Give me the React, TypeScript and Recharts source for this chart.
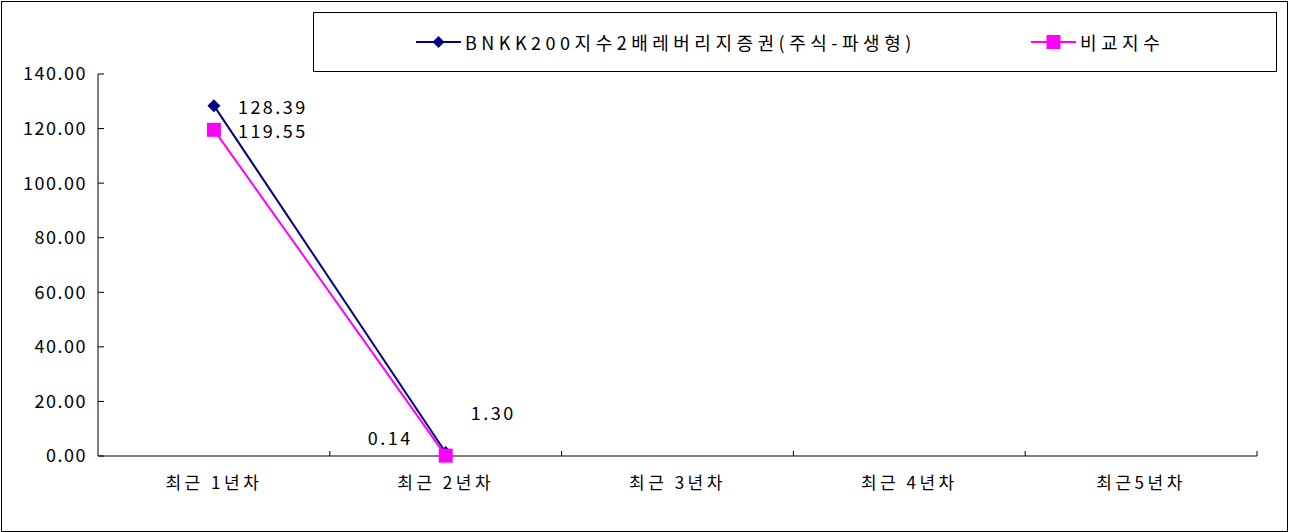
import { LineChart, Line, XAxis, YAxis, LabelList } from "recharts"

const categories = ["최근 1년차", "최근 2년차", "최근 3년차", "최근 4년차", "최근5년차"]
const fundValues = [128.39, 1.3, null, null, null]
const indexValues = [119.55, 0.14, null, null, null]
const yTicks = [0, 20, 40, 60, 80, 100, 120, 140]
const fundName = "BNKK200지수2배레버리지증권(주식-파생형)"
const indexName = "비교지수"

const NAVY = "#000080"
const MAGENTA = "#FF00FF"
const FONT = "'Noto Sans CJK KR', sans-serif"

const W = 1292
const H = 532
const M = { top: 74, right: 35, bottom: 0, left: 0 }
const Y_W = 98
const BAND = (W - Y_W - M.right) / categories.length

const data = categories.map((name, i) => ({
  name,
  fund: fundValues[i],
  index: indexValues[i],
}))

// label placement per point (hand-moved in the original)
const fundLabelPos = [
  { dx: 24, dy: 0, anchor: "start" },
  { dx: 25, dy: -40, anchor: "start" },
]
const indexLabelPos = [
  { dx: 24, dy: 0, anchor: "start" },
  { dx: -33, dy: -19, anchor: "end" },
]

const makeLabel = (pos: { dx: number; dy: number; anchor: string }[]) => (props: any) => {
  const { x, y, value, index } = props
  if (value == null || !pos[index]) return null
  const p = pos[index]
  return (
    <text
      x={x + p.dx}
      y={y + p.dy}
      textAnchor={p.anchor as any}
      dominantBaseline="central"
      fontSize={18}
      letterSpacing={2.5}
      fontFamily={FONT}
      fill="#000"
    >
      {Number(value).toFixed(2)}
    </text>
  )
}

const Diamond = (props: any) => {
  const { cx, cy, value } = props
  if (value == null || cx == null) return null
  const r = 6.5
  return (
    <polygon
      points={`${cx},${cy - r} ${cx + r},${cy} ${cx},${cy + r} ${cx - r},${cy}`}
      fill={NAVY}
    />
  )
}

const Square = (props: any) => {
  const { cx, cy, value } = props
  if (value == null || cx == null) return null
  return <rect x={cx - 7} y={cy - 7} width={14} height={14} fill={MAGENTA} />
}

const XTick = (props: any) => {
  const { x, y, payload } = props
  return (
    <g>
      <line x1={x + BAND / 2} y1={y} x2={x + BAND / 2} y2={y - 5} stroke="#000" />
      <text
        x={x}
        y={y + 25}
        textAnchor="middle"
        dominantBaseline="central"
        fontSize={17}
        letterSpacing={3.5}
        fontFamily={FONT}
        fill="#000"
      >
        {payload.value}
      </text>
    </g>
  )
}

function LegendBox() {
  return (
    <div
      style={{
        position: "absolute",
        left: 313,
        top: 12,
        width: 962,
        height: 58,
        border: "1px solid #000",
        fontFamily: FONT,
        fontSize: 18,
        letterSpacing: 4.5,
      }}
    >
      <div style={{ position: "absolute", left: 101, top: 0, height: 58, display: "flex", alignItems: "center", whiteSpace: "nowrap" }}>
        <svg width={48} height={16}>
          <line x1={1} y1={8} x2={46} y2={8} stroke={NAVY} strokeWidth={2} />
          <polygon points="23.5,2 29.5,8 23.5,14 17.5,8" fill={NAVY} />
        </svg>
        <span style={{ marginLeft: 2 }}>{fundName}</span>
      </div>
      <div style={{ position: "absolute", left: 716, top: 0, height: 58, display: "flex", alignItems: "center", whiteSpace: "nowrap" }}>
        <svg width={48} height={16}>
          <line x1={1} y1={8} x2={46} y2={8} stroke={MAGENTA} strokeWidth={2} />
          <rect x={16.5} y={1} width={14} height={14} fill={MAGENTA} />
        </svg>
        <span style={{ marginLeft: 2 }}>{indexName}</span>
      </div>
    </div>
  )
}

export default function App() {
  return (
    <div style={{ position: "absolute", left: 0, top: 0, width: W, height: H, background: "#fff" }}>
      <div
        style={{
          position: "absolute",
          left: 1,
          top: 1,
          width: 1285,
          height: 529,
          border: "1px solid #000",
        }}
      />
      <LineChart width={W} height={H} data={data} margin={M}>
        <YAxis
          width={Y_W}
          domain={[0, 140]}
          ticks={yTicks}
          tickFormatter={(v: number) => v.toFixed(2)}
          axisLine={{ stroke: "#000" }}
          tickLine={{ stroke: "#000" }}
          tickSize={-6}
          tickMargin={17}
          tick={{ fill: "#000", fontSize: 18, fontFamily: FONT, letterSpacing: 1.5 }}
        />
        <XAxis
          dataKey="name"
          scale="band"
          height={76}
          axisLine={{ stroke: "#000" }}
          tickLine={false}
          tickSize={0}
          tickMargin={0}
          interval={0}
          tick={<XTick />}
        />
        <Line
          dataKey="fund"
          stroke={NAVY}
          strokeWidth={2}
          dot={<Diamond />}
          activeDot={false}
          isAnimationActive={false}
        >
          <LabelList dataKey="fund" content={makeLabel(fundLabelPos)} />
        </Line>
        <Line
          dataKey="index"
          stroke={MAGENTA}
          strokeWidth={2}
          dot={<Square />}
          activeDot={false}
          isAnimationActive={false}
        >
          <LabelList dataKey="index" content={makeLabel(indexLabelPos)} />
        </Line>
      </LineChart>
      <LegendBox />
    </div>
  )
}
